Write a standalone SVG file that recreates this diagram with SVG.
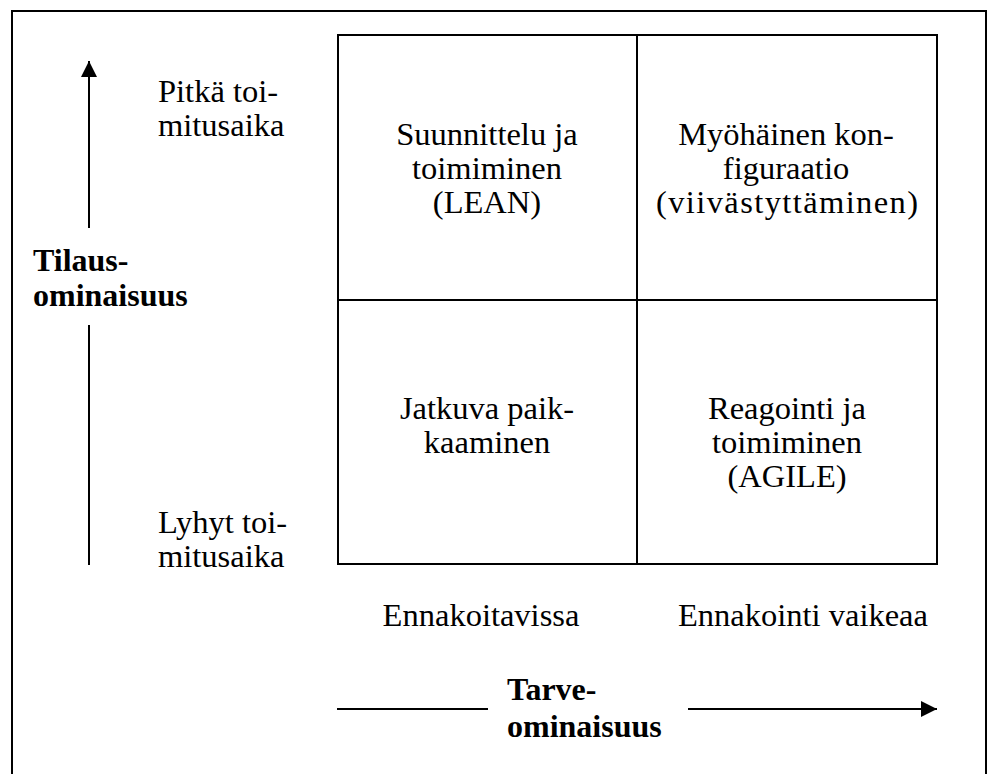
<svg xmlns="http://www.w3.org/2000/svg" width="988" height="774" viewBox="0 0 988 774">
  <style>
    .frame { fill: none; stroke: #000; stroke-width: 2; }
    .line { stroke: #000; stroke-width: 2; fill: none; }
    .t { font-family: "Liberation Serif", "Times New Roman", serif; font-size: 32.5px; fill: #000; }
    .c { text-anchor: middle; }
    .b { font-weight: bold; font-size: 32px; }
  </style>
  <defs>
    <marker id="head" viewBox="0 0 16 16" refX="16" refY="8" markerWidth="16" markerHeight="16" markerUnits="userSpaceOnUse" orient="auto">
      <path d="M0,0 L16,8 L0,16 Z" fill="#000"/>
    </marker>
  </defs>

  <rect width="988" height="774" fill="#fff"/>

  <!-- open frame: top, left and right edges -->
  <path class="frame" d="M12,774 V11 H986 V774"/>

  <!-- 2x2 matrix -->
  <g id="matrix">
    <rect class="frame" x="338" y="35" width="599" height="529"/>
    <line class="line" x1="637" y1="35" x2="637" y2="564"/>
    <line class="line" x1="338" y1="300" x2="937" y2="300"/>
  </g>

  <g id="cell-lean">
    <text class="t c" x="487" y="145">Suunnittelu ja</text>
    <text class="t c" x="487" y="179">toimiminen</text>
    <text class="t c" x="487" y="213">(LEAN)</text>
  </g>
  <g id="cell-postponement">
    <text class="t c" x="786" y="145">Myöhäinen kon-</text>
    <text class="t c" x="786" y="179">figuraatio</text>
    <text class="t c" x="787" y="213" textLength="262" lengthAdjust="spacing">(viivästyttäminen)</text>
  </g>
  <g id="cell-continuous">
    <text class="t c" x="487" y="419">Jatkuva paik-</text>
    <text class="t c" x="487" y="453">kaaminen</text>
  </g>
  <g id="cell-agile">
    <text class="t c" x="787" y="419">Reagointi ja</text>
    <text class="t c" x="787" y="453">toimiminen</text>
    <text class="t c" x="787" y="487">(AGILE)</text>
  </g>

  <!-- vertical axis labels -->
  <g id="label-long">
    <text class="t" x="158" y="102">Pitkä toi-</text>
    <text class="t" x="158" y="136">mitusaika</text>
  </g>
  <g id="label-short">
    <text class="t" x="158" y="533">Lyhyt toi-</text>
    <text class="t" x="158" y="567">mitusaika</text>
  </g>
  <g id="label-order">
    <text class="t b" x="33" y="271">Tilaus-</text>
    <text class="t b" x="33" y="306">ominaisuus</text>
  </g>

  <!-- horizontal axis labels -->
  <g id="label-predictable">
    <text class="t c" x="481" y="626">Ennakoitavissa</text>
  </g>
  <g id="label-hard">
    <text class="t c" x="803" y="626">Ennakointi vaikeaa</text>
  </g>
  <g id="label-demand">
    <text class="t b" x="507" y="700">Tarve-</text>
    <text class="t b" x="507" y="737">ominaisuus</text>
  </g>

  <!-- axis arrows -->
  <g id="connectors">
    <line class="line" x1="89" y1="228" x2="89" y2="61" marker-end="url(#head)"/>
    <line class="line" x1="89" y1="325" x2="89" y2="565"/>
    <line class="line" x1="337" y1="709" x2="488" y2="709"/>
    <line class="line" x1="688" y1="709" x2="937" y2="709" marker-end="url(#head)"/>
  </g>
</svg>
